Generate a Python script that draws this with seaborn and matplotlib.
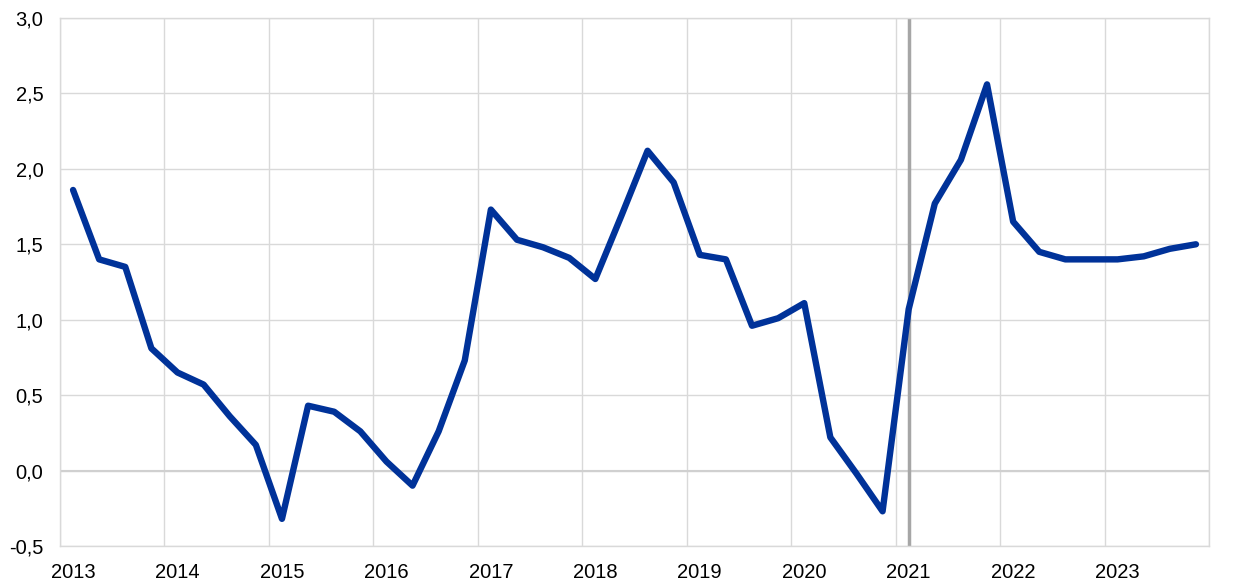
import matplotlib
matplotlib.use("Agg")
import matplotlib.pyplot as plt
import seaborn as sns
import pandas as pd
import numpy as np
from matplotlib.ticker import FixedLocator, FuncFormatter

years = [str(y) for y in range(2013, 2024)]
quarters = [f"{y}Q{q}" for y in range(2013, 2024) for q in range(1, 5)]
values = [1.86, 1.40, 1.35, 0.81, 0.65, 0.57, 0.36, 0.17,
          -0.32, 0.43, 0.39, 0.26, 0.06, -0.10, 0.26, 0.73,
          1.73, 1.53, 1.48, 1.41, 1.27, 1.69, 2.12, 1.91,
          1.43, 1.40, 0.96, 1.01, 1.11, 0.22, -0.02, -0.27,
          1.07, 1.77, 2.06, 2.56, 1.65, 1.45, 1.40, 1.40,
          1.40, 1.42, 1.47, 1.50]
marker_quarter = "2021Q1"

df = pd.DataFrame({"quarter": quarters, "value": values})
df["pos"] = np.arange(len(df))

sns.set_style("white")
plt.rcParams["font.family"] = ["Liberation Sans", "DejaVu Sans"]

fig = plt.figure(figsize=(12.4, 5.88), dpi=100)
ax = fig.add_axes([60/1240, 1-546/588, (1209-60)/1240, (546-18)/588])

ax.set_xlim(-0.5, 43.5)
ax.set_ylim(-0.5, 3.0)
ax.xaxis.set_minor_locator(FixedLocator(np.arange(-0.5, 44, 4)))
ax.xaxis.set_major_locator(FixedLocator(np.arange(0, 44, 4)))
ax.set_xticklabels(years)
ax.set_yticks(np.arange(-0.5, 3.01, 0.5))
ax.yaxis.set_major_formatter(FuncFormatter(lambda v, p: f"{v:.1f}".replace(".", ",")))
ax.grid(True, which="minor", axis="x", color="#d9d9d9", linewidth=1.0)
ax.grid(True, which="major", axis="y", color="#d9d9d9", linewidth=1.0)
ax.grid(False, which="major", axis="x")
ax.set_axisbelow(True)
for s in ax.spines.values():
    s.set_color("#d9d9d9")
    s.set_linewidth(1.0)
ax.axhline(0, color="#d0d0d0", linewidth=1.5, zorder=1)

xi = quarters.index(marker_quarter)
ax.axvline(xi, color="#a6a6a6", linewidth=2.5, zorder=2)

sns.lineplot(data=df, x="pos", y="value", color="#003299", linewidth=4.6,
             ax=ax, zorder=3, solid_joinstyle="round", solid_capstyle="round")

ax.set_xlabel("")
ax.set_ylabel("")
ax.tick_params(axis="both", which="both", length=0, labelsize=14.5, colors="#000000")
ax.tick_params(axis="x", pad=12)
ax.tick_params(axis="y", pad=12)

fig.savefig("out.png", dpi=100)
